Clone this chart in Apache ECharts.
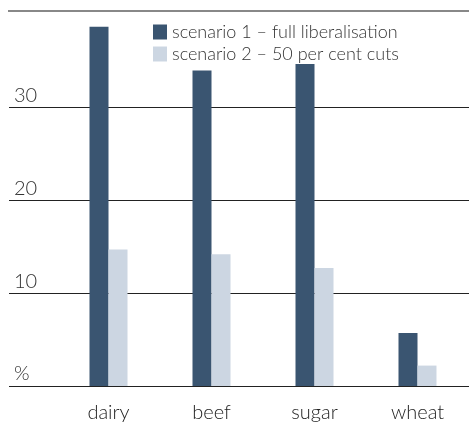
<!DOCTYPE html>
<html>
<head>
<meta charset="utf-8">
<script src="https://cdn.jsdelivr.net/npm/echarts@6/dist/echarts.min.js"></script>
<style>
  html, body { margin: 0; padding: 0; background: #fff; }
  #chart { width: 469px; height: 426px; }
</style>
</head>
<body>
<div id="chart"></div>
<script>
var categories = ['dairy', 'beef', 'sugar', 'wheat'];
var scenario1 = [38.7, 34.0, 34.7, 5.7];
var scenario2 = [14.7, 14.2, 12.7, 2.2];
var seriesNames = ['scenario 1 \u2013 full liberalisation', 'scenario 2 \u2013 50 per cent cuts'];

var chartDom = document.getElementById('chart');
var myChart = echarts.init(chartDom);
var option;

var font = 'Lato, "Open Sans", sans-serif';

option = {
	animation: false,
	textStyle: { fontFamily: font },
	graphic: [
		{
			type: 'rect',
			shape: { x: 8, y: 10, width: 461, height: 2 },
			style: { fill: '#888' }
		}
	],
	legend: {
		orient: 'vertical',
		left: 148,
		top: 18,
		itemWidth: 14,
		itemHeight: 15,
		itemGap: 4,
		icon: 'rect',
		textStyle: { fontSize: 18, fontWeight: 300, color: '#333', fontFamily: font },
		data: seriesNames
	},
	grid: [
		{ left: 9, right: 0, top: 24, bottom: 40 },
		{ left: 57, width: 425, top: 24, bottom: 40 }
	],
	xAxis: [
		{
			type: 'category',
			gridIndex: 0,
			data: categories,
			show: false
		},
		{
			type: 'category',
			gridIndex: 1,
			data: categories,
			axisLine: { show: false },
			axisTick: { show: false },
			axisLabel: { fontSize: 20, fontWeight: 300, color: '#222', margin: 17, fontFamily: font }
		}
	],
	yAxis: [
		{
			type: 'value',
			gridIndex: 0,
			min: 0,
			max: 39,
			interval: 10,
			axisLine: { show: false },
			axisTick: { show: false },
			splitLine: { showMaxLine: false, lineStyle: { color: '#222', width: 1 } },
			axisLabel: {
				inside: true,
				showMaxLabel: false,
				verticalAlign: 'bottom',
				margin: 5,
				padding: [0, 0, 2, 0],
				fontSize: 20,
				fontWeight: 300,
				color: '#333',
				fontFamily: font,
				formatter: function (v) { return v === 0 ? '%' : v; }
			}
		},
		{
			type: 'value',
			gridIndex: 1,
			min: 0,
			max: 39,
			interval: 10,
			show: false,
			splitLine: { show: false }
		}
	],
	series: [
		{
			name: seriesNames[0],
			type: 'bar',
			xAxisIndex: 1,
			yAxisIndex: 1,
			barWidth: 19,
			barGap: '0%',
			itemStyle: { color: '#3a5571' },
			data: scenario1
		},
		{
			name: seriesNames[1],
			type: 'bar',
			xAxisIndex: 1,
			yAxisIndex: 1,
			barWidth: 19,
			barGap: '0%',
			itemStyle: { color: '#ccd6e2' },
			data: scenario2
		}
	]
};

option && myChart.setOption(option);
</script>
</body>
</html>
